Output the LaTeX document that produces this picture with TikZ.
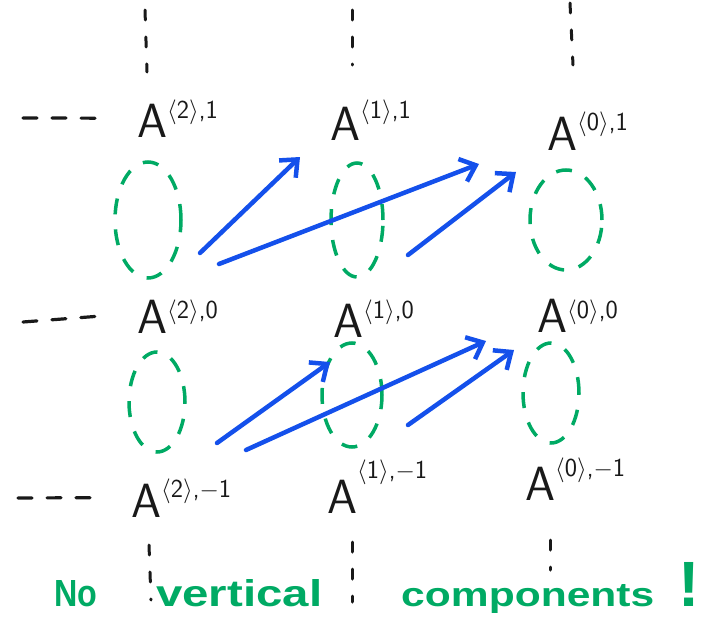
\documentclass[tikz,border=0pt]{standalone}
\usepackage{fontspec}
\usepackage{graphicx}
\newfontfamily\hand{Liberation Sans}
\usetikzlibrary{arrows.meta,shapes.geometric}
\definecolor{pen}{RGB}{25,25,25}
\definecolor{greenpen}{RGB}{0,170,100}
\definecolor{bluepen}{RGB}{20,80,235}
\newcommand\Asup[3]{{\fontsize{48}{50}\selectfont\sffamily A}\kern0pt\raisebox{#3}{\fontsize{26}{28}\selectfont\sffamily$\langle$#1$\rangle$,#2}}
\begin{document}
\begin{tikzpicture}[x=1pt,y=-1pt,
  Alab/.style={anchor=base west, inner sep=0pt, text=pen},
  hdash/.style={draw=pen, line width=3.2pt, dash pattern=on 14pt off 15pt, line cap=round},
  vdot/.style={draw=pen, line width=3pt, dash pattern=on 10pt off 17pt, line cap=round},
  loopring/.style={ellipse, draw=greenpen, line width=3.5pt, dash pattern=on 16pt off 15pt, inner sep=0pt},
  arr/.style={draw=bluepen, line width=4.5pt, line cap=round, -{Straight Barb[length=14pt,width=24pt]}},
  note/.style={anchor=base west, inner sep=0pt, text=greenpen, font=\hand\bfseries}
]
\useasboundingbox (0,0) rectangle (707,629);

% A labels
\node[Alab] (a21) at (137,137) {\Asup{2}{1}{19pt}};
\node[Alab] (a11) at (330,140) {\Asup{1}{1}{22pt}};
\node[Alab] (a01) at (547,150) {\Asup{0}{1}{20pt}};
\node[Alab] (a20) at (137,333) {\Asup{2}{0}{15pt}};
\node[Alab] (a10) at (333,337) {\Asup{1}{0}{19pt}};
\node[Alab] (a00) at (537,332) {\Asup{0}{0}{14pt}};
\node[Alab] (a2m) at (131,517) {\Asup{2}{$-$1}{20pt}};
\node[Alab] (a1m) at (327,513) {\Asup{1}{$-$1}{35pt}};
\node[Alab] (a0m) at (525,500) {\Asup{0}{$-$1}{24pt}};

% green dashed loops
\node[loopring, minimum width=66pt, minimum height=116pt] (l21) at (148,220) {};
\node[loopring, minimum width=52pt, minimum height=114pt] (l11) at (357,220) {};
\node[loopring, minimum width=72pt, minimum height=100pt] (l01) at (566,220) {};
\node[loopring, minimum width=56pt, minimum height=100pt] (l20) at (157,402) {};
\node[loopring, minimum width=60pt, minimum height=104pt] (l10) at (352,395) {};
\node[loopring, minimum width=56pt, minimum height=100pt] (l00) at (551,393) {};

% left dashes
\coordinate (d1) at (23,118);
\coordinate (d0) at (23,322);
\coordinate (dm) at (18,498);
\draw[hdash] (d1) -- ([xshift=-38pt]a21.west);
\draw[hdash] (d0) -- ([xshift=-38pt]a20.west);
\draw[hdash] (dm) -- ([xshift=-34pt]a2m.west);

% vertical dots
\coordinate (u1a) at (145,10); \coordinate (u1b) at (147,72);
\coordinate (u2a) at (352,10); \coordinate (u2b) at (352,65);
\coordinate (u3a) at (570,3);  \coordinate (u3b) at (573,65);
\coordinate (b1a) at (149,545); \coordinate (b1b) at (151,600);
\coordinate (b2a) at (352,542); \coordinate (b2b) at (352,602);
\coordinate (b3a) at (550,540); \coordinate (b3b) at (550,570);
\draw[vdot] (u1a) -- (u1b);
\draw[vdot] (u2a) -- (u2b);
\draw[vdot] (u3a) -- (u3b);
\draw[vdot] (b1a) -- (b1b);
\draw[vdot] (b2a) -- (b2b);
\draw[vdot] (b3a) -- (b3b);

% blue arrows
\coordinate (s1) at (200,253); \coordinate (e1) at (300,157);
\coordinate (s2) at (219,264); \coordinate (e2) at (479,164);
\coordinate (s3) at (408,255); \coordinate (e3) at (516,172);
\coordinate (s4) at (217,443); \coordinate (e4) at (330,362);
\coordinate (s5) at (246,450); \coordinate (e5) at (486,341);
\coordinate (s6) at (408,425); \coordinate (e6) at (514,350);
\draw[arr] (s1) -- (e1);
\draw[arr] (s2) -- (e2);
\draw[arr] (s3) -- (e3);
\draw[arr] (s4) -- (e4);
\draw[arr] (s5) -- (e5);
\draw[arr] (s6) -- (e6);

% note
\node[note] (txt) at (54,606) {\resizebox{43pt}{26pt}{No}\hspace{59pt}\resizebox{166pt}{27pt}{vertical}\hspace{79pt}\resizebox{253pt}{22pt}{components}\hspace{24pt}{\fontsize{64}{64}\selectfont !}};
\end{tikzpicture}
\end{document}
